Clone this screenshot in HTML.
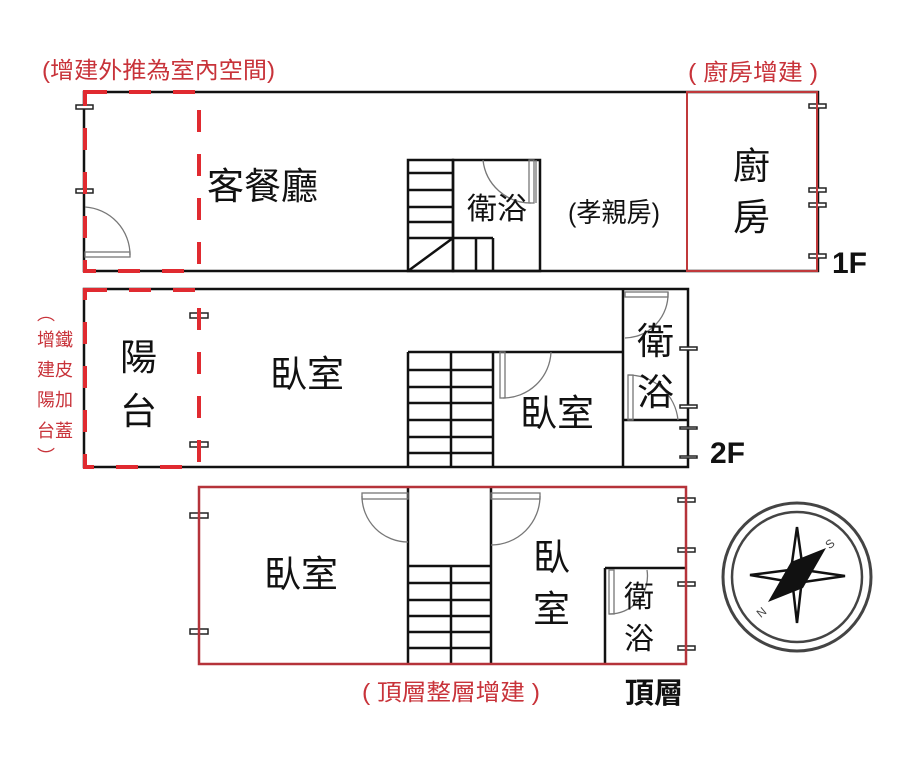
<!DOCTYPE html>
<html><head><meta charset="utf-8"><style>
html,body{margin:0;padding:0;background:#fff}
svg{display:block}
text{font-family:"Liberation Sans","Noto Sans CJK TC",sans-serif}
</style></head><body>
<svg width="905" height="759" viewBox="0 0 905 759" xmlns="http://www.w3.org/2000/svg">
<rect width="905" height="759" fill="#fff"/>
<g fill="none" stroke="#111" stroke-width="2.5">
<rect x="84" y="92" width="734" height="179"/>
<rect x="408" y="160" width="45" height="111"/>
<rect x="453" y="160" width="87" height="111"/>
<path d="M408 173H453M408 190H453M408 207H453M408 222H453M408 238H493M408 271L453 238M476 238V271M493 238V271"/>
<rect x="84" y="289" width="604" height="178"/>
<path d="M408 352V467M493 352V467M451 352V467M408 352H623M623 289V467M623 420H688"/>
<path d="M408 370H493M408 387H493M408 403H493M408 420H493M408 437H493M408 453H493"/>
<path d="M408 487V664M491 487V664M605 568V664M605 568H686M408 566H491M451 566V664"/>
<path d="M408 583H491M408 600H491M408 616H491M408 632H491M408 648H491"/>
</g>
<g fill="none" stroke="#777" stroke-width="1.3">
<path d="M85 207A48 48 0 0 1 130 255"/><rect x="85" y="252" width="45" height="5"/>
<path d="M483 160A48 48 0 0 0 531 203"/><rect x="529" y="160" width="5" height="43"/><line x1="536" y1="160" x2="536" y2="203"/>
<path d="M503 398A48 48 0 0 0 551 352"/><rect x="500" y="352" width="5" height="46"/>
<path d="M668 292A44 44 0 0 1 625 338"/><rect x="625" y="292" width="43" height="5"/>
<path d="M628 375A50 50 0 0 1 678 420"/><rect x="628" y="375" width="5" height="45"/>
<path d="M362 496A46 46 0 0 0 408 542"/><rect x="362" y="493" width="46" height="6"/>
<path d="M540 496A49 49 0 0 1 491 545"/><rect x="491" y="493" width="49" height="6"/>
<path d="M647 570A38 38 0 0 1 609 614"/><rect x="609" y="570" width="5" height="44"/>
</g>
<g fill="#fff" stroke="#222" stroke-width="1.5">
<rect x="76" y="105" width="17" height="4"/><rect x="76" y="189" width="17" height="4"/>
<rect x="809" y="104" width="17" height="4"/><rect x="809" y="188" width="17" height="4"/><rect x="809" y="203" width="17" height="4"/><rect x="809" y="254" width="17" height="4"/>
<rect x="190" y="313" width="18" height="5"/><rect x="190" y="442" width="18" height="5"/>
<rect x="680" y="347" width="17" height="3"/><rect x="680" y="405" width="17" height="3"/><rect x="680" y="427" width="17" height="2"/><rect x="680" y="456" width="17" height="2"/>
<rect x="190" y="513" width="18" height="5"/><rect x="190" y="629" width="18" height="5"/>
<rect x="678" y="498" width="17" height="4"/><rect x="678" y="548" width="17" height="4"/><rect x="678" y="582" width="17" height="4"/><rect x="678" y="646" width="17" height="4"/>
</g>
<rect x="687" y="92" width="130" height="179" fill="none" stroke="#c0393b" stroke-width="2"/>
<rect x="199" y="487" width="487" height="177" fill="none" stroke="#b5333a" stroke-width="2.5"/>
<g fill="none" stroke="#e02a30" stroke-width="4" stroke-dasharray="22 22">
<rect x="85" y="92" width="114" height="179"/>
<rect x="85" y="290" width="114" height="177"/>
</g>
<g fill="#111" font-size="37">
<text x="207" y="199">客餐廳</text>
<text x="270" y="387">臥室</text>
<text x="520" y="426">臥室</text>
<text x="264" y="587">臥室</text>
<text x="533" y="570">臥</text><text x="533" y="622">室</text>
<text x="120" y="370">陽</text><text x="120" y="424">台</text>
<text x="733" y="179">廚</text><text x="733" y="230">房</text>
<text x="637" y="354">衛</text><text x="637" y="405">浴</text>
</g>
<g fill="#111" font-size="30">
<text x="467" y="219">衛浴</text>
<text x="624" y="607">衛</text><text x="624" y="649">浴</text>
</g>
<text x="568" y="222" font-size="27" fill="#111" textLength="92" lengthAdjust="spacingAndGlyphs">(孝親房)</text>
<g fill="#111" font-weight="bold" font-size="30">
<text x="832" y="273">1F</text>
<text x="710" y="463">2F</text>
<text x="625" y="703" font-size="29">頂層</text>
</g>
<g fill="#c8333a" font-size="23">
<text x="42" y="78" textLength="233" lengthAdjust="spacingAndGlyphs">(增建外推為室內空間)</text>
<text x="688" y="80" textLength="130" lengthAdjust="spacingAndGlyphs">( 廚房增建 )</text>
<text x="362" y="700" textLength="178" lengthAdjust="spacingAndGlyphs">( 頂層整層增建 )</text>
</g>
<g fill="#c8333a" font-size="18">
<text x="37" y="320">︵</text>
<text x="37" y="346">增鐵</text>
<text x="37" y="376">建皮</text>
<text x="37" y="406">陽加</text>
<text x="37" y="437">台蓋</text>
<text x="37" y="463">︶</text>
</g>
<g stroke="#444" fill="none">
<circle cx="797" cy="577" r="74" stroke-width="3"/>
<circle cx="797" cy="577" r="65" stroke-width="2.5"/>
</g>
<g stroke="#111" stroke-width="2.5" fill="#fff">
<polygon points="797,527 803,570 797,623 791,570"/>
<polygon points="750,575 797,569 845,576 797,583"/>
</g>
<polygon points="826,548 803,588 768,602 791,562" fill="#111"/>
<text x="826" y="548" font-size="12" fill="#444" transform="rotate(-40 830 544)">S</text>
<text x="757" y="616" font-size="12" fill="#444" transform="rotate(-40 762 612)">N</text>
</svg>
</body></html>
